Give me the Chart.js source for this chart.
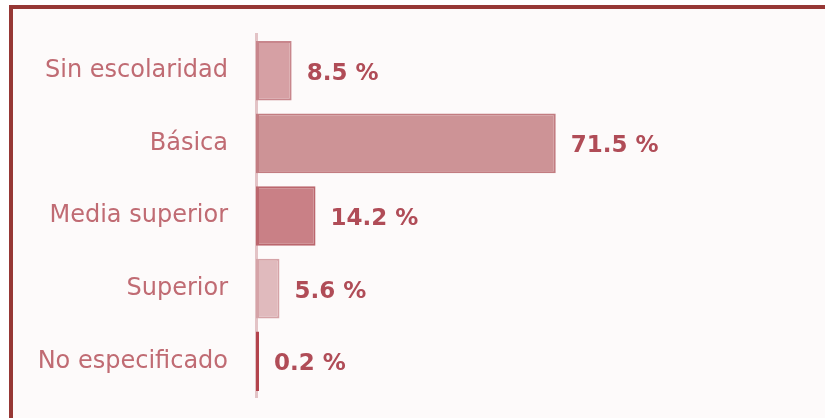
<!DOCTYPE html>
<html>
<head>
<meta charset="utf-8">
<script src="https://cdn.jsdelivr.net/npm/chart.js@4/dist/chart.umd.min.js"></script>
<style>
  html, body { margin: 0; padding: 0; background: #ffffff; }
  #wrap { position: relative; width: 825px; height: 418px; overflow: hidden; }
  #frame { position: absolute; left: 9px; top: 5px; width: 816px; height: 413px;
           border-top: 4px solid #963735; border-left: 4px solid #963735;
           background: #fdfafa; box-sizing: border-box; }
  #c { position: absolute; left: 0; top: 0; }
</style>
</head>
<body>
<div id="wrap">
  <div id="frame"></div>
  <canvas id="c" width="825" height="432"></canvas>
</div>
<script>
const categories = ["Sin escolaridad", "Básica", "Media superior", "Superior", "No especificado"];
const values = [8.5, 71.5, 14.2, 5.6, 0.2];
const fillColors = ["#d6a0a4", "#cd9396", "#c98086", "#e0babd", "#b3434c"];
const edgeColors = ["#c8868c", "#c27c81", "#bb666d", "#d5a3a7", "#b3434c"];

const valueLabels = {
  id: 'valueLabels',
  afterDatasetsDraw(chart) {
    const ctx = chart.ctx;
    const meta = chart.getDatasetMeta(0);
    ctx.save();
    ctx.font = 'bold 23px "DejaVu Sans", sans-serif';
    ctx.fillStyle = '#b04c57';
    ctx.textAlign = 'left';
    ctx.textBaseline = 'middle';
    meta.data.forEach((el, i) => {
      ctx.fillText(values[i].toFixed(1) + ' %', el.x + 15, el.y + 3);
    });
    ctx.restore();
  }
};

new Chart(document.getElementById('c'), {
  type: 'bar',
  data: {
    labels: categories,
    datasets: [{
      data: values,
      backgroundColor: fillColors,
      borderColor: edgeColors,
      borderWidth: { left: 3, top: 2, right: 2, bottom: 2 },
      borderSkipped: false,
      categoryPercentage: 1,
      barPercentage: 0.82,
      minBarLength: 3
    }]
  },
  options: {
    indexAxis: 'y',
    responsive: false,
    animation: false,
    layout: { padding: { top: 33, bottom: 2, right: 24, left: 0 } },
    plugins: { legend: { display: false }, tooltip: { enabled: false } },
    scales: {
      x: { display: false, min: 0, max: 130 },
      y: {
        grid: { display: false },
        border: { display: true, color: '#e3c3c6', width: 3 },
        ticks: {
          color: '#c06b73',
          font: { family: '"DejaVu Sans", sans-serif', size: 24 },
          padding: 20
        },
        afterFit(scale) { scale.width = 256; }
      }
    }
  },
  plugins: [valueLabels]
});
</script>
</body>
</html>
